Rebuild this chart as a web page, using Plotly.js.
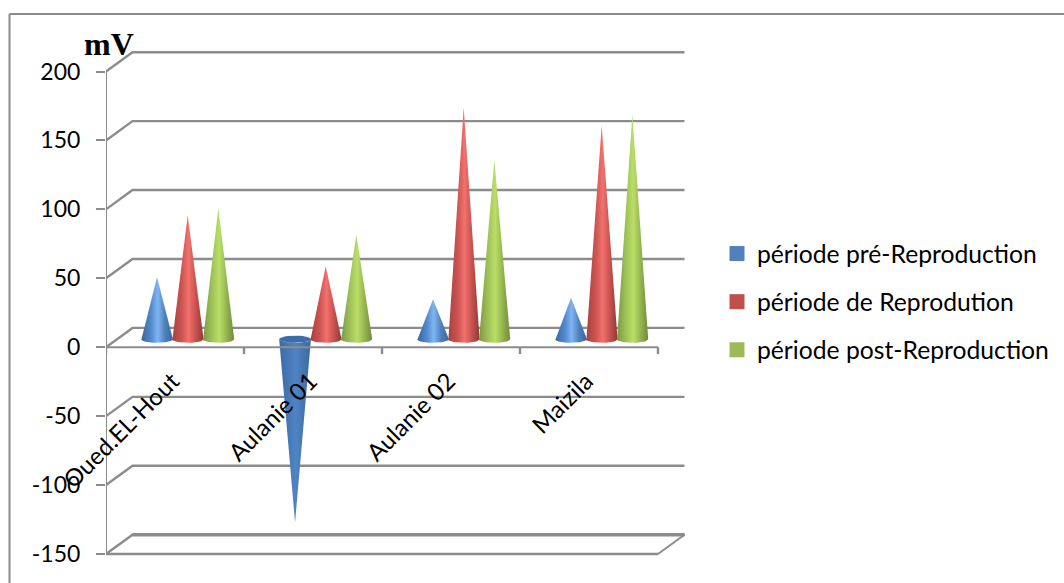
<!DOCTYPE html>
<html>
<head>
<meta charset="utf-8">
<script src="https://cdn.plot.ly/plotly-3.0.1.min.js"></script>
<style>html,body{margin:0;padding:0;background:#fff}</style>
</head>
<body>
<div id="chart" style="width:1064px;height:583px"></div>
<script>
const categories = ["Oued.EL-Hout", "Aulanie 01", "Aulanie 02", "Maizila"];
const seriesNames = ["période pré-Reproduction", "période de Reprodution", "période post-Reproduction"];
const preReproduction = [45, -133, 29, 30];
const reproduction = [90, 53, 168, 155];
const postReproduction = [95, 76, 130, 163];
const yTickValues = [200, 150, 100, 50, 0, -50, -100, -150];
const yTickLabels = ["200", "150", "100", "50", "0", "-50", "-100", "-150"];

const seriesValues = [preReproduction, reproduction, postReproduction];
const swatchColors = ["#4f81bd", "#c0504d", "#9bbb59"];
const gradients = [
  ["#39679f", "#5189cb", "#7fb5f3", "#4f80bb", "#3a669c"],
  ["#a24240", "#cd5451", "#f1716d", "#c9524f", "#8c3a38"],
  ["#7c9944", "#a0c358", "#bade66", "#94b650", "#6f8a39"]
];
const negGradient = ["#3a6aa6", "#4679b6", "#4f84c4", "#4577b2", "#396aa2"];
const stops = [0, 0.3, 0.52, 0.75, 1];

// Pseudo-3D frame of the chart, expressed in axis units.
const GRID = "#8c8c8c";
const catCount = categories.length;
const depthX = 0.192, depthY = 14;       // back wall offset
const midDepthY = 5.8;                   // cones stand half way in the depth
const slotOffset = [0.37, 0.592, 0.814]; // series position in a category slot
const radiusX = 0.115, radiusY = 2.6;    // cone base ellipse

const traces = [];
function line(xs, ys, w) {
  traces.push({x: xs, y: ys, mode: "lines", line: {color: GRID, width: w},
    showlegend: false, hoverinfo: "skip"});
}
// Walls: each grid value has a diagonal and a back-wall line
yTickValues.forEach(v => {
  line([0, depthX, catCount + depthX], [v, v + depthY, v + depthY], 2.4);
});
// Floor at the lowest value
const low = yTickValues[yTickValues.length - 1];
line([catCount, catCount + depthX], [low, low + depthY], 2);
line([catCount + depthX, depthX], [low + depthY, low + depthY], 3.5);

// Cones
function ellipseArc(cx, cy, from, to) {
  const xs = [], ys = [], n = 24;
  for (let k = 0; k <= n; k++) {
    const t = from + (to - from) * k / n;
    xs.push(cx + radiusX * Math.cos(t));
    ys.push(cy + radiusY * Math.sin(t));
  }
  return [xs, ys];
}
function scale(cols) {
  return cols.map((c, i) => [stops[i], c]);
}
categories.forEach((cat, i) => {
  seriesValues.forEach((vals, s) => {
    const v = vals[i], cx = i + slotOffset[s], cy = midDepthY;
    const [ax, ay] = ellipseArc(cx, cy, Math.PI, 2 * Math.PI); // front half of the base
    const neg = v < 0;
    traces.push({
      x: [cx].concat(ax, [cx]),
      y: [cy + v].concat(ay, [cy + v]),
      mode: "lines", fill: "toself", line: {width: 0},
      fillgradient: {type: "horizontal", colorscale: scale(neg ? negGradient : gradients[s])},
      name: seriesNames[s] + " " + cat, legendgroup: "s" + s, showlegend: false, hoverinfo: "skip"
    });
    if (neg) {
      const [cxs, cys] = ellipseArc(cx, cy, 0, 2 * Math.PI);
      traces.push({x: cxs, y: cys, mode: "lines", fill: "toself", line: {width: 0},
        fillcolor: "#3d6da8", legendgroup: "s" + s, showlegend: false, hoverinfo: "skip"});
    }
  });
});

// Front lines are on top of the cones
line([0, catCount], [0, 0], 2);
line([0, 0], [yTickValues[0], low], 2);
line([0, catCount], [low, low], 2.4);
for (let k = 0; k <= catCount; k++) line([k, k], [0, -5], 2.4);

// Legend entries
seriesNames.forEach((n, s) => {
  traces.push({x: [null], y: [null], mode: "markers", name: n, legendgroup: "s" + s,
    marker: {symbol: "square", size: 15, color: swatchColors[s]}, hoverinfo: "skip"});
});

const W = 1064, H = 583;
const plotL = 106, plotR = 700, plotT = 30, plotB = 570;
const pxPerCat = 138, pxPerVal = (554 - 71.5) / 350;
const FONT = "Lato, sans-serif";

const layout = {
  width: W, height: H, autosize: false,
  paper_bgcolor: "#fff", plot_bgcolor: "rgba(0,0,0,0)",
  margin: {l: plotL, r: W - plotR, t: plotT, b: H - plotB, pad: 0, autoexpand: false},
  font: {family: FONT, color: "#000", size: 23},
  showlegend: true,
  legend: {x: 717 / W, y: (H - 231) / H,
    xanchor: "left", yanchor: "top", xref: "container", yref: "container",
    font: {family: FONT, size: 24.7, color: "#000"}, tracegroupgap: 13, traceorder: "grouped",
    bgcolor: "rgba(0,0,0,0)"},
  xaxis: {
    range: [0, (plotR - plotL) / pxPerCat], anchor: "free",
    position: (plotB - 347.5) / (plotB - plotT),
    tickmode: "array", tickvals: categories.map((c, i) => i + 0.48), ticktext: categories,
    tickangle: -45, ticks: "", showgrid: false, zeroline: false, showline: false,
    ticklabelstandoff: 14,
    tickfont: {family: FONT, size: 24, color: "#000"}
  },
  yaxis: {
    range: [-150 - (plotB - 554) / pxPerVal, 200 + (71.5 - plotT) / pxPerVal],
    tickmode: "array", tickvals: yTickValues, ticktext: yTickLabels,
    ticks: "outside", ticklen: 9, tickwidth: 2, tickcolor: GRID,
    ticklabelstandoff: 11, showgrid: false, zeroline: false, showline: false,
    tickfont: {family: FONT, size: 23, color: "#000"}
  },
  annotations: [{
    text: "<b>mV</b>", xref: "paper", yref: "paper", showarrow: false,
    x: (83 - plotL) / (plotR - plotL), y: (plotB - 44) / (plotB - plotT),
    xanchor: "left", yanchor: "middle", borderpad: 0,
    font: {family: "Liberation Serif, serif", size: 32, color: "#000"}
  }],
  shapes: [
    {type: "line", xref: "paper", yref: "paper", layer: "below",
     x0: (9.5 - plotL) / (plotR - plotL), x1: (9.5 - plotL) / (plotR - plotL),
     y0: (plotB - 14) / (plotB - plotT), y1: (plotB - 583) / (plotB - plotT),
     line: {color: "#8c8c8c", width: 2}},
    {type: "line", xref: "paper", yref: "paper", layer: "below",
     x0: (9.5 - plotL) / (plotR - plotL), x1: (1064 - plotL) / (plotR - plotL),
     y0: (plotB - 14) / (plotB - plotT), y1: (plotB - 14) / (plotB - plotT),
     line: {color: "#8c8c8c", width: 2}}
  ]
};
Plotly.newPlot("chart", traces, layout, {displayModeBar: false, staticPlot: true});
</script>
</body>
</html>
